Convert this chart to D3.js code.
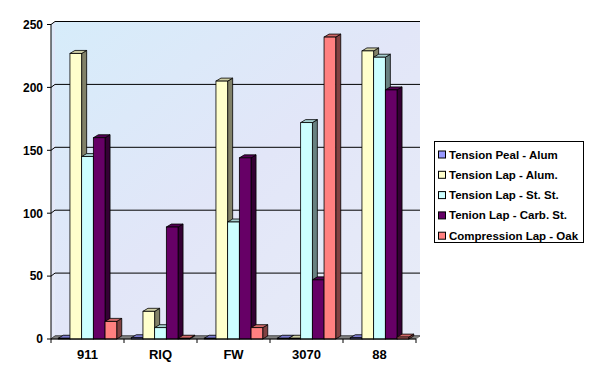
<!DOCTYPE html>
<html><head><meta charset="utf-8">
<script src="https://cdn.jsdelivr.net/npm/d3@7"></script>
<style>body{margin:0;background:#fff}svg{display:block}text{font-family:Arial,"Liberation Sans",sans-serif;font-weight:bold}</style>
</head><body>
<svg id="c" width="600" height="381"></svg>
<script>
const categories = ["911", "RIQ", "FW", "3070", "88"];
const seriesNames = ["Tension Peal - Alum", "Tension Lap - Alum.", "Tension Lap - St. St.", "Tenion Lap - Carb. St.", "Compression Lap - Oak"];
const tensionPealAlum = [0.6, 1, 0.6, 0.6, 1];
const tensionLapAlum = [227, 22, 205, 0.6, 229];
const tensionLapStSt = [145, 9, 93, 172, 224];
const tenionLapCarbSt = [160, 89, 144, 47, 198];
const compressionLapOak = [14, 0.6, 9, 240, 1.5];
const yTicks = [0, 50, 100, 150, 200, 250];
const colors = ["#9999FF", "#FFFFCC", "#CCFFFF", "#660066", "#FF8080"];

const seriesValues = [tensionPealAlum, tensionLapAlum, tensionLapStSt, tenionLapCarbSt, compressionLapOak];

const svg = d3.select("#c");
const L = 51, R = 416, dx = 4, dy = 3;
const y = d3.scaleLinear().domain([0, 250]).range([339, 24.5]);
const x = d3.scaleBand().domain(categories).range([L, R]).paddingInner(0).paddingOuter(0);
const xs = d3.scaleBand().domain(d3.range(5)).range([0, x.bandwidth()]).paddingInner(0).paddingOuter(0.62);

const defs = svg.append("defs");
const grad = defs.append("linearGradient").attr("id", "wall").attr("x1", 0).attr("y1", 0).attr("x2", 1).attr("y2", 1);
grad.append("stop").attr("offset", "0%").attr("stop-color", "#D6ECFA");
grad.append("stop").attr("offset", "50%").attr("stop-color", "#E2E6F8");
grad.append("stop").attr("offset", "100%").attr("stop-color", "#E8ECF8");

const y0 = y(0), yTop = y(250);
svg.append("polygon").attr("points", [[L+dx, yTop-dy],[R+dx, yTop-dy],[R+dx, y0-dy],[L+dx, y0-dy]].join(" ")).attr("fill", "url(#wall)");
svg.append("polygon").attr("points", [[L, yTop],[L+dx, yTop-dy],[L+dx, y0-dy],[L, y0]].join(" ")).attr("fill", "url(#wall)");
yTicks.forEach(v => {
  svg.append("line").attr("x1", L+dx).attr("x2", R+dx).attr("y1", y(v)-dy).attr("y2", y(v)-dy).attr("stroke", "#000").attr("stroke-width", 1);
  svg.append("line").attr("x1", L).attr("x2", L+dx).attr("y1", y(v)).attr("y2", y(v)-dy).attr("stroke", "#000").attr("stroke-width", 1);
});
svg.append("polygon").attr("points", [[L, y0],[R, y0],[R+dx, y0-dy],[L+dx, y0-dy]].join(" ")).attr("fill", "#808080").attr("stroke", "#555").attr("stroke-width", 0.6);

const bw = xs.bandwidth(), bdx = 5, bdy = 3;
categories.forEach((c, ci) => {
  seriesValues.forEach((vals, si) => {
    const v = vals[ci];
    const x0 = x(c) + xs(si), x1 = x0 + bw;
    const yt = y(v), yb = y(0);
    const col = d3.rgb(colors[si]);
    const g = svg.append("g");
    g.append("polygon").attr("points", [[x1, yt],[x1+bdx, yt-bdy],[x1+bdx, yb-bdy],[x1, yb]].join(" "))
      .attr("fill", col.darker(1.9)).attr("stroke", "#000").attr("stroke-width", 0.8);
    g.append("polygon").attr("points", [[x0, yt],[x1, yt],[x1+bdx, yt-bdy],[x0+bdx, yt-bdy]].join(" "))
      .attr("fill", col.darker(0.6)).attr("stroke", "#000").attr("stroke-width", 0.8);
    g.append("rect").attr("x", x0).attr("y", yt).attr("width", bw).attr("height", Math.max(0, yb - yt))
      .attr("fill", col).attr("stroke", "#000").attr("stroke-width", 0.8);
  });
});

svg.append("line").attr("x1", L).attr("x2", L).attr("y1", yTop).attr("y2", y0).attr("stroke", "#000");
svg.append("line").attr("x1", L).attr("x2", R).attr("y1", y0).attr("y2", y0).attr("stroke", "#000");
yTicks.forEach(v => {
  svg.append("line").attr("x1", L-4).attr("x2", L).attr("y1", y(v)).attr("y2", y(v)).attr("stroke", "#000");
  svg.append("text").attr("x", 43).attr("y", y(v) + 4.3).attr("text-anchor", "end").attr("font-size", "12px").text(v);
});
const bounds = categories.map(c => x(c)).concat([R]);
bounds.forEach(bx => svg.append("line").attr("x1", bx).attr("x2", bx).attr("y1", y0).attr("y2", y0 + 4).attr("stroke", "#000"));
categories.forEach(c => {
  svg.append("text").attr("x", x(c) + x.bandwidth()/2).attr("y", 359).attr("text-anchor", "middle").attr("font-size", "13px").text(c);
});

svg.append("rect").attr("x", 434.5).attr("y", 141.5).attr("width", 149).attr("height", 101).attr("fill", "#fff").attr("stroke", "#000");
seriesNames.forEach((n, i) => {
  const cy = 154.5 + i * 20.3;
  svg.append("rect").attr("x", 438.5).attr("y", cy - 3.5).attr("width", 7).attr("height", 7).attr("fill", colors[i]).attr("stroke", "#000");
  svg.append("text").attr("x", 449).attr("y", cy + 4).attr("font-size", "11.5px").text(n);
});
</script>
</body></html>
